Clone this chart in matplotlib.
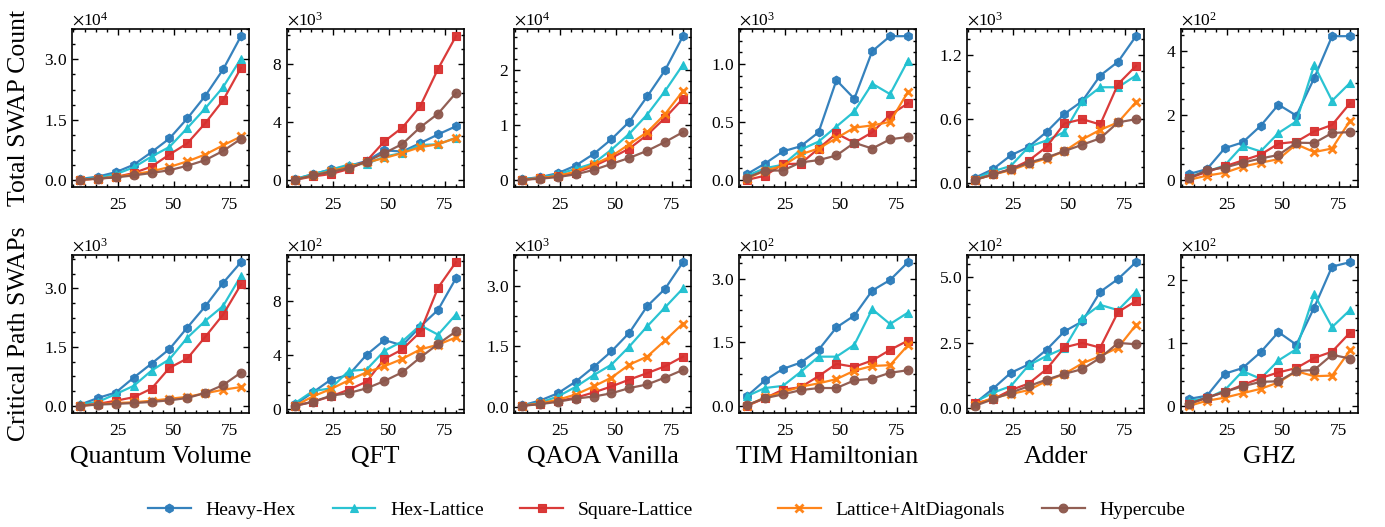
import matplotlib
matplotlib.use("Agg")
import matplotlib.pyplot as plt
from matplotlib.ticker import ScalarFormatter, MultipleLocator, AutoMinorLocator, FixedLocator

# qubit counts
n_qubits = [8, 16, 24, 32, 40, 48, 56, 64, 72, 80]

topologies = ["Heavy-Hex", "Hex-Lattice", "Square-Lattice", "Lattice+AltDiagonals", "Hypercube"]
circuits = ["Quantum Volume", "QFT", "QAOA Vanilla", "TIM Hamiltonian", "Adder", "GHZ"]

# total swap count, order of each panel: topologies above (values in units of the scale)
total_qv = [[0.02, 0.08, 0.19, 0.375, 0.69, 1.03, 1.53, 2.09, 2.75, 3.58],
            [0.01, 0.05, 0.14, 0.31, 0.58, 0.82, 1.29, 1.78, 2.31, 3.02],
            [0.0, 0.03, 0.07, 0.17, 0.33, 0.63, 0.91, 1.41, 1.98, 2.79],
            [0.0, 0.03, 0.07, 0.14, 0.21, 0.32, 0.46, 0.63, 0.86, 1.08],
            [0.0, 0.03, 0.06, 0.11, 0.17, 0.24, 0.35, 0.49, 0.72, 1.02]]
total_qft = [[0.05, 0.38, 0.72, 0.95, 1.3, 2.03, 1.95, 2.53, 3.13, 3.69],
             [0.05, 0.4, 0.7, 1.05, 1.1, 1.6, 1.85, 2.4, 2.45, 2.9],
             [0.0, 0.23, 0.4, 0.74, 1.3, 2.65, 3.6, 5.07, 7.65, 9.9],
             [0.02, 0.3, 0.6, 0.9, 1.2, 1.5, 1.85, 2.25, 2.45, 2.88],
             [0.0, 0.3, 0.55, 0.8, 1.25, 1.84, 2.47, 3.62, 4.56, 5.99]]
total_qaoa = [[0.01, 0.05, 0.12, 0.26, 0.47, 0.74, 1.06, 1.52, 2.0, 2.62],
              [0.01, 0.04, 0.1, 0.2, 0.3, 0.55, 0.84, 1.19, 1.62, 2.1],
              [0.0, 0.03, 0.07, 0.13, 0.25, 0.4, 0.57, 0.82, 1.13, 1.48],
              [0.0, 0.03, 0.07, 0.15, 0.28, 0.43, 0.65, 0.87, 1.2, 1.62],
              [0.0, 0.02, 0.05, 0.1, 0.18, 0.29, 0.4, 0.53, 0.69, 0.87]]
total_tim = [[0.05, 0.14, 0.245, 0.29, 0.41, 0.86, 0.7, 1.11, 1.24, 1.24],
             [0.035, 0.1, 0.13, 0.26, 0.33, 0.46, 0.59, 0.83, 0.74, 1.03],
             [0.0, 0.035, 0.135, 0.14, 0.27, 0.4, 0.32, 0.41, 0.56, 0.66],
             [0.01, 0.08, 0.12, 0.22, 0.27, 0.36, 0.45, 0.47, 0.5, 0.76],
             [0.02, 0.08, 0.08, 0.15, 0.17, 0.21, 0.32, 0.27, 0.35, 0.37]]
total_adder = [[0.05, 0.13, 0.26, 0.34, 0.48, 0.65, 0.77, 1.01, 1.14, 1.38],
               [0.04, 0.11, 0.16, 0.34, 0.4, 0.48, 0.77, 0.9, 0.9, 1.01],
               [0.03, 0.08, 0.13, 0.21, 0.34, 0.56, 0.6, 0.55, 0.93, 1.1],
               [0.03, 0.08, 0.12, 0.18, 0.23, 0.3, 0.41, 0.5, 0.57, 0.76],
               [0.03, 0.08, 0.13, 0.19, 0.24, 0.3, 0.36, 0.42, 0.57, 0.6]]
total_ghz = [[0.18, 0.33, 0.98, 1.16, 1.67, 2.33, 1.99, 3.15, 4.45, 4.45],
             [0.1, 0.25, 0.45, 1.06, 0.88, 1.45, 1.81, 3.55, 2.45, 3.0],
             [0.05, 0.25, 0.42, 0.6, 0.78, 1.12, 1.18, 1.5, 1.7, 2.37],
             [0.0, 0.13, 0.22, 0.41, 0.53, 0.64, 1.1, 0.86, 0.97, 1.83],
             [0.05, 0.3, 0.38, 0.53, 0.66, 0.77, 1.15, 1.14, 1.45, 1.48]]

# critical path swaps
crit_qv = [[0.03, 0.2, 0.34, 0.72, 1.08, 1.45, 2.0, 2.54, 3.14, 3.67],
           [0.04, 0.1, 0.3, 0.51, 0.9, 1.19, 1.74, 2.17, 2.55, 3.32],
           [0.0, 0.05, 0.13, 0.22, 0.44, 0.97, 1.21, 1.76, 2.33, 3.1],
           [0.0, 0.04, 0.07, 0.09, 0.13, 0.18, 0.23, 0.32, 0.41, 0.48],
           [0.0, 0.03, 0.05, 0.07, 0.1, 0.14, 0.2, 0.33, 0.53, 0.85]]
crit_qft = [[0.3, 1.2, 2.15, 2.5, 4.0, 5.1, 4.7, 6.1, 7.35, 9.7],
            [0.4, 1.3, 1.5, 2.8, 2.9, 4.3, 5.0, 6.2, 5.5, 7.0],
            [0.2, 0.5, 0.9, 1.4, 2.0, 3.7, 4.4, 5.7, 9.0, 10.9],
            [0.2, 0.9, 1.45, 2.1, 2.7, 3.15, 3.7, 4.4, 4.75, 5.3],
            [0.2, 0.5, 0.95, 1.15, 1.5, 2.05, 2.7, 3.8, 4.8, 5.75]]
crit_qaoa = [[0.03, 0.15, 0.33, 0.62, 0.98, 1.37, 1.83, 2.49, 2.92, 3.58],
             [0.02, 0.1, 0.25, 0.49, 0.78, 1.04, 1.49, 1.99, 2.46, 2.93],
             [0.02, 0.07, 0.14, 0.22, 0.35, 0.5, 0.67, 0.83, 1.0, 1.24],
             [0.02, 0.08, 0.17, 0.3, 0.5, 0.72, 1.04, 1.24, 1.64, 2.06],
             [0.02, 0.06, 0.12, 0.2, 0.25, 0.33, 0.46, 0.55, 0.72, 0.91]]
crit_tim = [[0.23, 0.6, 0.87, 1.02, 1.32, 1.85, 2.13, 2.72, 2.97, 3.39],
            [0.23, 0.42, 0.47, 0.8, 1.16, 1.16, 1.44, 2.28, 1.93, 2.2],
            [0.0, 0.18, 0.38, 0.44, 0.7, 0.99, 0.92, 1.07, 1.32, 1.54],
            [0.0, 0.2, 0.32, 0.45, 0.53, 0.63, 0.83, 0.94, 0.96, 1.43],
            [0.02, 0.18, 0.27, 0.37, 0.42, 0.42, 0.6, 0.64, 0.78, 0.84]]
crit_adder = [[0.2, 0.75, 1.36, 1.68, 2.24, 2.94, 3.32, 4.45, 4.94, 5.58],
              [0.25, 0.6, 0.85, 1.65, 2.0, 2.3, 3.45, 3.95, 3.75, 4.45],
              [0.2, 0.35, 0.7, 0.95, 1.5, 2.33, 2.5, 2.32, 3.68, 4.1],
              [0.15, 0.4, 0.55, 0.7, 1.05, 1.32, 1.72, 2.0, 2.32, 3.18],
              [0.1, 0.35, 0.6, 0.85, 1.1, 1.32, 1.5, 1.93, 2.5, 2.45]]
crit_ghz = [[0.11, 0.16, 0.51, 0.6, 0.85, 1.17, 0.97, 1.56, 2.21, 2.28],
            [0.08, 0.12, 0.25, 0.55, 0.43, 0.72, 0.9, 1.77, 1.25, 1.52],
            [0.03, 0.13, 0.22, 0.33, 0.44, 0.53, 0.6, 0.76, 0.86, 1.16],
            [0.0, 0.08, 0.13, 0.2, 0.27, 0.37, 0.55, 0.47, 0.48, 0.88],
            [0.03, 0.13, 0.22, 0.31, 0.38, 0.39, 0.55, 0.57, 0.81, 0.75]]

total_data = [total_qv, total_qft, total_qaoa, total_tim, total_adder, total_ghz]
crit_data = [crit_qv, crit_qft, crit_qaoa, crit_tim, crit_adder, crit_ghz]
total_scale = [1e4, 1e3, 1e4, 1e3, 1e3, 1e2]
crit_scale = [1e3, 1e2, 1e3, 1e2, 1e2, 1e2]
total_yticks = [[0, 1.5, 3.0], [0, 4, 8], [0, 1, 2], [0, 0.5, 1.0], [0, 0.6, 1.2], [0, 2, 4]]
crit_yticks = [[0, 1.5, 3.0], [0, 4, 8], [0, 1.5, 3.0], [0, 1.5, 3.0], [0, 2.5, 5.0], [0, 1, 2]]

colors = ["#2b7bba", "#1fc0d0", "#d8302f", "#ff7f0e", "#8c564b"]
markers = ["h", "^", "s", "x", "o"]

plt.rcParams["font.family"] = "serif"
plt.rcParams["font.serif"] = ["Liberation Serif", "DejaVu Serif"]
plt.rcParams["mathtext.fontset"] = "stix"
plt.rcParams["xtick.direction"] = "in"
plt.rcParams["ytick.direction"] = "in"
plt.rcParams["xtick.top"] = True
plt.rcParams["ytick.right"] = True
plt.rcParams["xtick.major.size"] = 4
plt.rcParams["ytick.major.size"] = 4
plt.rcParams["xtick.minor.size"] = 2
plt.rcParams["ytick.minor.size"] = 2
plt.rcParams["axes.linewidth"] = 1.2

fig = plt.figure(figsize=(13.85, 5.27), dpi=100)
W, H = 1385.0, 527.0
lefts = [72, 287, 514, 739, 967, 1181]
tops = [29, 255]
aw, ah = 177, 158

rows = [(total_data, total_scale, total_yticks, "Total SWAP Count"),
        (crit_data, crit_scale, crit_yticks, "Critical Path SWAPs")]

for r, (data, scales, yticks, ylab) in enumerate(rows):
    for c in range(6):
        ax = fig.add_axes([lefts[c] / W, 1 - (tops[r] + ah) / H, aw / W, ah / H])
        for k in range(5):
            vals = [v * scales[c] for v in data[c][k]]
            ax.plot(n_qubits, vals, color=colors[k], marker=markers[k], lw=1.6,
                    ms=6.3, mew=2 if markers[k] == "x" else 0.8,
                    mec=colors[k], alpha=0.95, label=topologies[k])
        ax.yaxis.set_major_locator(FixedLocator([t * scales[c] for t in yticks[c]]))
        fmt = ScalarFormatter(useMathText=True, useOffset=False)
        fmt.set_powerlimits((0, 0))
        ax.yaxis.set_major_formatter(fmt)
        ax.yaxis.set_minor_locator(AutoMinorLocator())
        ax.xaxis.set_major_locator(FixedLocator([25, 50, 75]))
        ax.xaxis.set_minor_locator(MultipleLocator(5))
        ax.tick_params(labelsize=12.5, which="both", width=1.0)
        ax.tick_params(axis="x", which="major", pad=7.5)
        ax.yaxis.get_offset_text().set_fontsize(12.5)
        if r == 1:
            ax.set_xlabel(circuits[c], fontsize=18.5, labelpad=5)
        if c == 0:
            ax.set_ylabel(ylab, fontsize=18.5)
            ax.yaxis.set_label_coords(-0.237, 0.5)

handles, labels = ax.get_legend_handles_labels()
leg_kw = dict(loc="center left", frameon=False, fontsize=14, columnspacing=1.9,
              handlelength=2.2, handletextpad=0.75, borderpad=0, borderaxespad=0)
fig.legend(handles[:3], labels[:3], ncol=3, bbox_to_anchor=(148 / W, 1 - 510 / H), **leg_kw)
fig.legend(handles[3:], labels[3:], ncol=2, bbox_to_anchor=(778 / W, 1 - 510 / H), **leg_kw)

fig.savefig("out.png", dpi=100)
